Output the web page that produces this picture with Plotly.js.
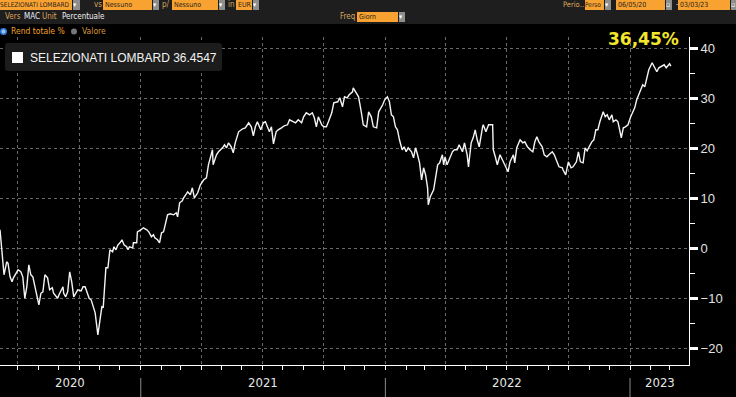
<!DOCTYPE html>
<html>
<head>
<meta charset="utf-8">
<script src="https://cdn.plot.ly/plotly-3.0.1.min.js"></script>
<style>
html,body{margin:0;padding:0;background:#000;overflow:hidden}
#chart{width:736px;height:397px}
</style>
</head>
<body>
<div id="chart"></div>
<script>
// ---------- DATA ----------
const dates = [
'2020-06-05','2020-06-11','2020-06-15','2020-06-17','2020-06-20','2020-06-23','2020-06-25','2020-07-02','2020-07-06','2020-07-09',
'2020-07-12','2020-07-15','2020-07-18','2020-07-21','2020-07-24','2020-07-28','2020-08-02','2020-08-05','2020-08-08','2020-08-11',
'2020-08-15','2020-08-18','2020-08-22','2020-08-24','2020-08-30','2020-09-01','2020-09-04','2020-09-07','2020-09-08','2020-09-11',
'2020-09-14','2020-09-17','2020-09-20','2020-09-23','2020-09-26','2020-09-29','2020-10-04','2020-10-07','2020-10-10','2020-10-13',
'2020-10-16','2020-10-19','2020-10-22','2020-10-25','2020-10-29','2020-10-31','2020-11-02','2020-11-04','2020-11-06','2020-11-08',
'2020-11-10','2020-11-13','2020-11-16','2020-11-20','2020-11-22','2020-11-25','2020-11-28','2020-12-01','2020-12-04','2020-12-07',
'2020-12-11','2020-12-13','2020-12-15','2020-12-20','2020-12-21','2020-12-26','2020-12-27','2021-01-01','2021-01-05','2021-01-10',
'2021-01-13','2021-01-17','2021-01-20','2021-01-22','2021-01-26','2021-01-29','2021-02-01','2021-02-04','2021-02-10','2021-02-14',
'2021-02-19','2021-02-23','2021-02-25','2021-02-28','2021-03-04','2021-03-06','2021-03-12','2021-03-16','2021-03-19','2021-03-22',
'2021-03-27','2021-03-31','2021-04-05','2021-04-09','2021-04-12','2021-04-18','2021-04-19','2021-04-24','2021-04-27','2021-05-03',
'2021-05-06','2021-05-09','2021-05-12','2021-05-16','2021-05-19','2021-05-22','2021-05-27','2021-06-02','2021-06-06','2021-06-11',
'2021-06-15','2021-06-18','2021-06-21','2021-06-24','2021-06-29','2021-07-03','2021-07-06','2021-07-09','2021-07-12','2021-07-15',
'2021-07-18','2021-07-22','2021-07-25','2021-07-30','2021-08-03','2021-08-08','2021-08-11','2021-08-17','2021-08-20','2021-08-24',
'2021-08-29','2021-09-01','2021-09-05','2021-09-10','2021-09-14','2021-09-17','2021-09-20','2021-09-23','2021-09-28','2021-10-01',
'2021-10-05','2021-10-08','2021-10-13','2021-10-16','2021-10-22','2021-10-25','2021-10-29','2021-11-01','2021-11-05','2021-11-08',
'2021-11-13','2021-11-14','2021-11-19','2021-11-22','2021-11-26','2021-11-29','2021-12-04','2021-12-07','2021-12-11','2021-12-14',
'2021-12-19','2021-12-22','2021-12-28','2021-12-31','2022-01-04','2022-01-07','2022-01-10','2022-01-13','2022-01-16','2022-01-19',
'2022-01-22','2022-01-26','2022-01-29','2022-02-01','2022-02-04','2022-02-09','2022-02-12','2022-02-15','2022-02-18','2022-02-21',
'2022-02-24','2022-02-27','2022-03-02','2022-03-05','2022-03-06','2022-03-09','2022-03-14','2022-03-17','2022-03-20','2022-03-23',
'2022-03-27','2022-03-29','2022-03-31','2022-04-03','2022-04-08','2022-04-11','2022-04-14','2022-04-18','2022-04-21','2022-04-26',
'2022-04-29','2022-05-03','2022-05-05','2022-05-09','2022-05-12','2022-05-15','2022-05-18','2022-05-21','2022-05-26','2022-05-27',
'2022-05-31','2022-06-04','2022-06-10','2022-06-11','2022-06-14','2022-06-17','2022-06-21','2022-06-26','2022-06-29','2022-07-03',
'2022-07-06','2022-07-11','2022-07-13','2022-07-16','2022-07-21','2022-07-25','2022-07-28','2022-08-01','2022-08-05','2022-08-09',
'2022-08-12','2022-08-15','2022-08-18','2022-08-23','2022-08-26','2022-08-30','2022-09-02','2022-09-07','2022-09-10','2022-09-14',
'2022-09-17','2022-09-22','2022-09-23','2022-09-27','2022-10-01','2022-10-05','2022-10-08','2022-10-13','2022-10-16','2022-10-19',
'2022-10-23','2022-10-26','2022-10-29','2022-11-01','2022-11-05','2022-11-08','2022-11-11','2022-11-14','2022-11-17','2022-11-22',
'2022-11-25','2022-11-28','2022-12-01','2022-12-05','2022-12-07','2022-12-11','2022-12-14','2022-12-19','2022-12-22','2022-12-25',
'2022-12-29','2023-01-02','2023-01-05','2023-01-08','2023-01-11','2023-01-16','2023-01-20','2023-01-23','2023-01-26','2023-01-29',
'2023-02-03','2023-02-06','2023-02-10','2023-02-13','2023-02-18','2023-02-21','2023-02-24','2023-02-27','2023-03-01','2023-03-03'
];
const values = [
3.7,-5.3,-2.7,-3.0,-5.7,-6.7,-5.9,-4.3,-4.7,-5.7,
-10.0,-7.7,-3.3,-5.3,-5.7,-8.3,-11.3,-9.0,-8.7,-5.3,
-5.9,-8.3,-7.9,-9.0,-10.0,-9.3,-8.3,-7.7,-9.0,-9.7,
-8.7,-4.7,-6.7,-9.7,-9.0,-8.3,-8.5,-7.7,-7.7,-8.7,
-10.0,-10.3,-11.7,-12.9,-17.3,-15.7,-13.9,-11.7,-11.9,-8.3,
-3.9,-3.9,-0.3,-0.7,0.3,-0.3,0.7,1.1,1.7,0.7,
0.3,-0.3,0.3,0.1,1.1,1.1,3.3,3.7,4.1,3.7,
3.3,2.3,2.7,2.1,1.7,1.1,3.1,3.3,6.7,6.9,
6.7,7.1,6.3,9.1,9.5,10.1,11.3,10.7,12.1,10.1,
11.1,12.7,13.7,14.1,16.7,19.7,16.7,18.7,19.3,20.1,
20.7,20.1,21.1,20.3,19.1,21.1,23.3,23.9,24.1,25.1,
24.3,22.5,24.3,25.3,23.7,25.1,25.3,24.3,23.3,24.3,
20.9,23.3,23.7,24.1,24.5,24.7,25.7,25.3,25.1,25.7,
25.1,26.3,27.1,26.7,27.1,26.1,24.3,26.3,24.7,24.3,
24.3,25.3,27.1,29.1,29.3,30.1,28.3,30.3,30.1,30.7,
31.3,32.1,31.1,30.3,27.3,24.7,24.3,27.3,26.3,24.3,
24.1,27.3,28.7,29.7,30.3,29.3,26.7,26.3,24.3,23.7,
21.7,19.7,20.3,19.3,20.1,19.3,18.1,20.1,18.7,17.1,
13.7,16.1,14.7,12.1,8.7,10.3,11.7,14.7,16.7,17.1,
18.7,16.7,18.3,16.7,18.3,19.3,19.7,19.7,20.7,19.3,
21.1,18.7,16.3,21.1,22.1,23.7,21.7,20.3,24.3,24.7,
23.3,24.7,24.7,19.7,18.3,16.7,18.7,17.3,16.3,15.3,
17.3,18.7,17.1,20.1,21.7,21.1,21.3,20.3,19.7,19.3,
21.3,22.3,21.3,20.3,18.7,18.3,18.7,19.3,18.7,17.3,
16.3,16.1,15.7,14.7,17.3,16.1,16.3,17.3,19.3,17.3,
17.1,20.1,19.5,20.3,21.3,21.7,23.7,23.7,25.3,27.3,
26.3,26.7,25.7,26.7,25.3,25.7,25.3,22.1,24.1,24.3,
24.7,26.3,27.1,28.1,29.7,31.3,32.7,32.3,34.1,35.7,
37.1,36.3,35.3,36.1,36.5,36.7,36.1,36.7,36.9,36.45
];
const seriesName = 'SELEZIONATI LOMBARD';
const lastValueText = '36.4547';
const headlineText = '36,45%';
const yearLabels = ['2020','2021','2022','2023'];
const yTickVals = [-20,-10,0,10,20,30,40];

// ---------- LAYOUT HELPERS ----------
const W = 736, H = 397;
const M = {l:0, r:47, t:37, b:32};
const PW = W - M.l - M.r, PH = H - M.t - M.b;
const PX = x => (x - M.l) / PW;
const PY = y => (H - M.b - y) / PH;
const NARROW = 'DejaVu Sans Condensed, Liberation Sans Narrow, sans-serif';
const SANS = 'Liberation Sans, Arial, sans-serif';
const ORANGE = '#f8a232', TAN = '#dca55a', BOXTXT = '#2a2419', BTN = '#8e8e8e';
const NB = '\u00a0';

function box(x0, x1, y0, y1, text, bg, color, size) {
  return {xref:'paper', yref:'paper', x:PX(x0), y:PY(y0), xanchor:'left', yanchor:'top',
    width:x1-x0, height:y1-y0, bgcolor:bg, borderpad:0, borderwidth:0, showarrow:false,
    text:text, align:'left', valign:'middle',
    font:{family:NARROW, size:size||7, color:color||BOXTXT}};
}
function lab(x, yc, text, color, size, family) {
  return {xref:'paper', yref:'paper', x:PX(x), y:PY(yc), xanchor:'left', yanchor:'middle',
    showarrow:false, text:text, font:{family:family||NARROW, size:size||8, color:color}};
}
function roundRect(x0, y0, x1, y1, r) {
  const p = (x, y) => PX(x) + ',' + PY(y);
  return 'M' + p(x0 + r, y0) + ' L' + p(x1 - r, y0) + ' Q' + p(x1, y0) + ' ' + p(x1, y0 + r) +
    ' L' + p(x1, y1 - r) + ' Q' + p(x1, y1) + ' ' + p(x1 - r, y1) +
    ' L' + p(x0 + r, y1) + ' Q' + p(x0, y1) + ' ' + p(x0, y1 - r) +
    ' L' + p(x0, y0 + r) + ' Q' + p(x0, y0) + ' ' + p(x0 + r, y0) + ' Z';
}

const xRange = ['2020-06-05', '2023-03-30'];
const yRange = [(248.3 - (H - M.b)) / 5, (248.3 - M.t) / 5];

// year separators & centred labels computed from the axis range
const t0 = new Date(xRange[0]).getTime(), t1 = new Date(xRange[1]).getTime();
const yearShapes = [], yearAnns = [];
yearLabels.forEach(function (yl) {
  const ys = new Date(yl + '-01-01').getTime(), ye = new Date((+yl + 1) + '-01-01').getTime();
  const a = Math.max(ys, t0), b = Math.min(ye, t1);
  if (ys > t0) {
    yearShapes.push({type:'line', xref:'x', yref:'paper', x0:yl + '-01-01', x1:yl + '-01-01',
      y0:PY(378), y1:PY(397), line:{color:'#8a8a8a', width:1}});
  }
  yearAnns.push({xref:'x', yref:'paper', x:new Date((a + b) / 2).toISOString().slice(0, 10),
    y:PY(382), xanchor:'center', yanchor:'middle', showarrow:false, text:yl,
    font:{family:NARROW, size:13, color:'#e6e6e6'}});
});

// ---------- TRACE ----------
const trace = {
  type:'scatter', mode:'lines', x:dates, y:values, name:seriesName,
  line:{color:'#f4f4f4', width:1.4}, hoverinfo:'skip', showlegend:false
};

// ---------- SHAPES ----------
const shapes = [
  {type:'rect', xref:'paper', yref:'paper', x0:PX(0), x1:PX(W), y0:PY(24), y1:PY(0),
    fillcolor:'#1e1e1e', line:{width:0}, layer:'above'},
  {type:'path', xref:'paper', yref:'paper', path:roundRect(5, 43, 222, 71, 3),
    fillcolor:'#1c1c1c', line:{width:0}, layer:'above'},
  {type:'rect', xref:'paper', yref:'paper', x0:PX(12), x1:PX(23), y0:PY(63), y1:PY(52),
    fillcolor:'#ffffff', line:{width:0}, layer:'above'},
  {type:'circle', xref:'paper', yref:'paper', x0:PX(0.8), x1:PX(6.2), y0:PY(34.2), y1:PY(28.8),
    fillcolor:'#9cc4f2', line:{color:'#2f7de1', width:1.6}, layer:'above'},
  {type:'circle', xref:'paper', yref:'paper', x0:PX(71), x1:PX(77), y0:PY(34.5), y1:PY(28.5),
    fillcolor:'#777777', line:{width:0}, layer:'above'}
].concat(yearShapes);

// ---------- ANNOTATIONS ----------
const annotations = [
  // row 1
  box(0, 72, 0, 10, 'SELEZIONATI LOMBARD', ORANGE, BOXTXT, 6.5),
  box(73, 80, 0, 10, '\u25be', BTN, '#ffffff', 7),
  lab(92, 5, 'vs', TAN),
  box(103, 152, 0, 10, NB + 'Nessuno', ORANGE),
  box(153, 159, 0, 10, '\u25be', BTN, '#ffffff', 7),
  lab(160, 5, 'p/', TAN),
  box(172, 218, 0, 10, NB + 'Nessuno', ORANGE),
  box(219, 225, 0, 10, '\u25be', BTN, '#ffffff', 7),
  lab(226, 5, 'in', TAN),
  box(236, 252, 0, 10, NB + 'EUR', ORANGE),
  box(253, 259, 0, 10, '\u25be', BTN, '#ffffff', 7),
  lab(561, 5, 'Perio\u2026', TAN, 7.5),
  box(585, 604, 0, 10, 'Perso', ORANGE, BOXTXT, 6.5),
  box(605, 611, 0, 10, '\u25be', BTN, '#ffffff', 7),
  box(616, 665, 0, 10, NB + '06/05/20', ORANGE),
  box(666, 672, 0, 10, '\u25ab', BTN, '#ffffff', 7),
  lab(674, 5, '-', '#cccccc'),
  box(678, 730, 0, 10, NB + '03/03/23', ORANGE),
  box(731, 736, 0, 10, '\u25ab', BTN, '#ffffff', 7),
  // row 2
  lab(3, 16.5, 'Vers', TAN),
  lab(22, 16.5, 'MAC', '#e8eef8'),
  lab(40, 16.5, 'Unit', TAN),
  lab(60, 16.5, 'Percentuale', '#f0f0f0'),
  lab(338, 16.5, 'Freq', TAN),
  box(357, 398, 12, 22, NB + 'Giorn', ORANGE),
  box(399, 405, 12, 22, '\u25be', BTN, '#ffffff', 7),
  // row 3
  lab(9, 31.5, 'Rend totale %', '#f2a12e', 8.5),
  lab(80, 31.5, 'Valore', '#d99a3c', 8.5),
  // legend text
  lab(28, 58, seriesName + ' ' + lastValueText, '#f2f2f2', 12, SANS),
  // headline value
  {xref:'paper', yref:'paper', x:PX(643), y:PY(39.5), xanchor:'center', yanchor:'middle',
    showarrow:false, text:'<b>' + headlineText + '</b>',
    font:{family:'DejaVu Sans, sans-serif', size:17, color:'#f3e62c'}}
].concat(yearAnns);

// ---------- LAYOUT ----------
const layout = {
  width:W, height:H,
  margin:{l:M.l, r:M.r, t:M.t, b:M.b, pad:0},
  paper_bgcolor:'#000000', plot_bgcolor:'#000000',
  showlegend:false,
  xaxis:{
    type:'date', range:xRange, fixedrange:true,
    showline:true, linecolor:'#ffffff', linewidth:1,
    ticks:'outside', ticklen:4, tickwidth:1, tickcolor:'#ffffff',
    dtick:'M3', tick0:'2020-01-01',
    showgrid:true, gridcolor:'#6a6a6a', griddash:'dot', gridwidth:1,
    showticklabels:false, zeroline:false,
    minor:{dtick:'M1', tick0:'2020-01-01', ticks:'outside', ticklen:4, tickwidth:1,
      tickcolor:'#ffffff', showgrid:false}
  },
  yaxis:{
    side:'right', range:yRange, fixedrange:true,
    tickmode:'array', tickvals:yTickVals,
    showline:true, linecolor:'#ffffff', linewidth:1,
    ticks:'outside', ticklen:8, tickwidth:3, tickcolor:'#ffffff',
    showgrid:true, gridcolor:'#6a6a6a', griddash:'dot', gridwidth:1,
    zeroline:false,
    tickfont:{family:SANS, size:13, color:'#e2e2e2'},
    minor:{dtick:5, tick0:0, ticks:'outside', ticklen:5, tickwidth:1,
      tickcolor:'#ffffff', showgrid:false}
  },
  shapes:shapes,
  annotations:annotations
};

Plotly.newPlot('chart', [trace], layout, {displayModeBar:false, staticPlot:true});
</script>
</body>
</html>
